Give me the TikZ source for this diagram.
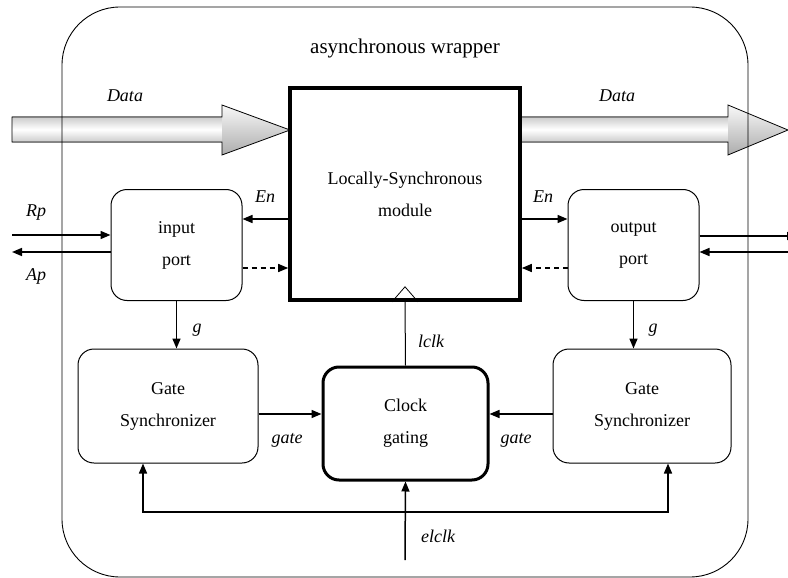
\documentclass[tikz,border=0pt]{standalone}
\usepackage{fontspec}
\setmainfont{Liberation Serif}
\usetikzlibrary{arrows.meta}
\begin{document}
\begin{tikzpicture}[x=1pt,y=-1pt,
  txt/.style={font=\fontsize{18}{32}\selectfont, align=center, inner sep=0pt},
  lbl/.style={font=\fontsize{18}{20}\selectfont\itshape, inner sep=0pt, anchor=base},
  portbox/.style={txt, draw, line width=1pt, rounded corners=16pt},
  modbox/.style={txt, draw, line width=3.6pt},
  clkbox/.style={txt, draw, line width=3pt, rounded corners=16pt},
  arr/.style={line width=1.5pt, -{Triangle[length=10pt,width=8pt]}},
  dasharr/.style={arr, dash pattern=on 5pt off 4pt}
]
\useasboundingbox (0,0) rectangle (788,578);

% Data arrows
\shade[top color=gray!40, bottom color=gray!40, middle color=white] (12,117) rectangle (222,142);
\shade[top color=gray!5, bottom color=gray!65] (222,105) -- (290,130) -- (222,155) -- cycle;
\draw[line width=0.8pt] (12,117) -- (222,117) -- (222,105) -- (290,130) -- (222,155) -- (222,142) -- (12,142) -- cycle;
\shade[top color=gray!40, bottom color=gray!40, middle color=white] (520,117) rectangle (728,142);
\shade[top color=gray!5, bottom color=gray!65] (728,105) -- (788,130) -- (728,155) -- cycle;
\draw[line width=0.8pt] (520,117) -- (728,117) -- (728,105) -- (788,130) -- (728,155) -- (728,142) -- (520,142) -- cycle;

% wrapper
\draw[line width=0.9pt, rounded corners=58pt] (62,7) rectangle (748,577);
\node[font=\fontsize{21}{24}\selectfont, inner sep=0pt, anchor=base] (title) at (405,54) {asynchronous wrapper};

% blocks
\node[modbox, minimum width=230pt, minimum height=212pt] (mod) at (405,194) {Locally-Synchronous\\module};
\node[portbox, minimum width=131pt, minimum height=111pt] (inport) at (176.5,245) {input\\port};
\node[portbox, minimum width=131pt, minimum height=111pt] (outport) at (633.5,245) {output\\port};
\node[portbox, minimum width=180pt, minimum height=114pt] (gsL) at (168,406) {Gate\\Synchronizer};
\node[portbox, minimum width=178pt, minimum height=114pt] (gsR) at (642,406) {Gate\\Synchronizer};
\node[clkbox, minimum width=165pt, minimum height=113pt] (clk) at (405.5,423.5) {Clock\\gating};

% clock triangle
\draw[line width=0.8pt] ([xshift=-13pt]mod.south) -- ([yshift=15pt]mod.south) -- ([xshift=13pt]mod.south);

% labels
\node[lbl] (ldata) at (125,102) {Data};
\node[lbl] (rdata) at (617,102) {Data};
\node[lbl] (rp) at (36,216) {Rp};
\node[lbl] (ap) at (36,280) {Ap};
\node[lbl] (enl) at (265,202) {En};
\node[lbl] (enr) at (543,202) {En};
\node[lbl] (gl) at (197,332) {g};
\node[lbl] (gr) at (653,332) {g};
\node[lbl] (gatel) at (287,443) {gate};
\node[lbl] (gater) at (516,443) {gate};
\node[lbl] (lclk) at (431,347) {lclk};
\node[lbl] (elclk) at (438,542) {elclk};

% free ends
\coordinate (rpin) at (12,235);
\coordinate (apout) at (12,252);
\coordinate (rout) at (797,236);
\coordinate (rin) at (788,252);
\coordinate (eclk) at (405,560);
\coordinate (junc) at (405,512);

% connectors
\draw[arr] (rpin) -- (inport.west |- rpin);
\draw[arr] (inport.west |- apout) -- (apout);
\draw[arr] (outport.east |- rout) -- (rout);
\draw[arr] (rin) -- (outport.east |- rin);
\draw[arr] (mod.west |- 0,219) -- (inport.east |- 0,219);
\draw[dasharr] (inport.east |- 0,268) -- (mod.west |- 0,268);
\draw[arr] (mod.east |- 0,219) -- (outport.west |- 0,219);
\draw[dasharr] (outport.west |- 0,268) -- (mod.east |- 0,268);
\draw[arr] (inport.south) -- (gsL.north -| inport.south);
\draw[arr] (outport.south) -- (gsR.north -| outport.south);
\draw[arr] (gsL.east |- 0,414) -- (clk.west |- 0,414);
\draw[arr] (gsR.west |- 0,414) -- (clk.east |- 0,414);
\draw[line width=1pt] (clk.north) -- (mod.south);
\draw[arr] (eclk) -- (clk.south);
\draw[arr] (junc) -| ([xshift=-25pt]gsL.south);
\draw[arr] (junc) -| ([xshift=26pt]gsR.south);
\end{tikzpicture}
\end{document}
